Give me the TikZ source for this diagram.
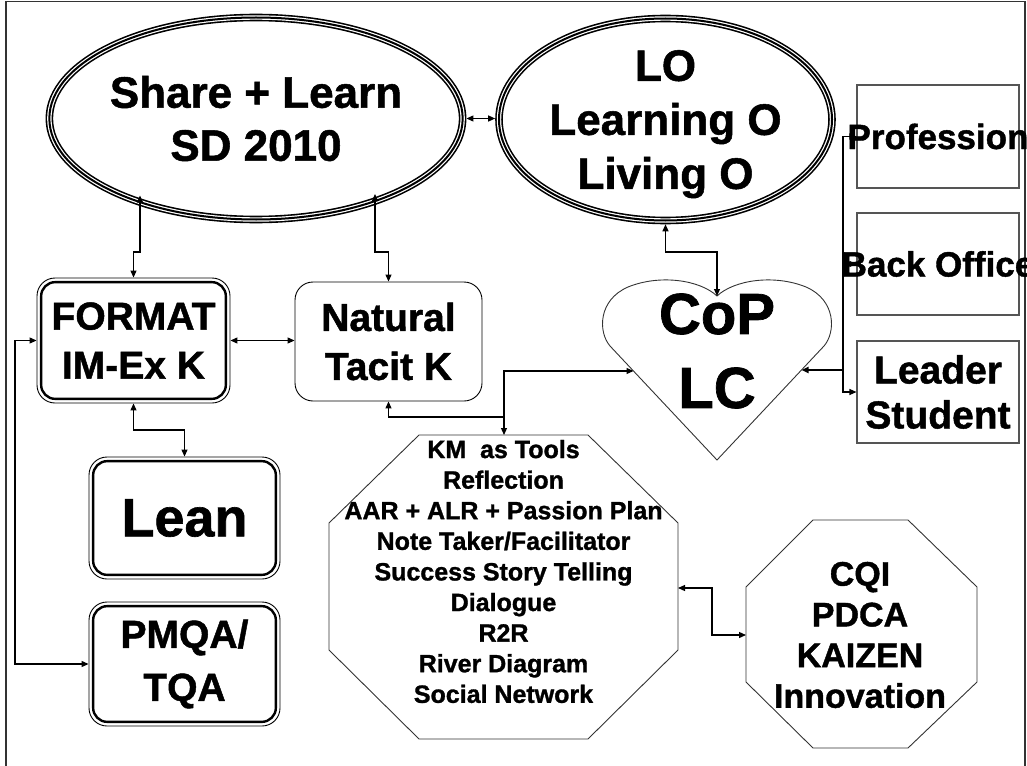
\documentclass[tikz,border=0pt]{standalone}
\usepackage{fontspec}
\setmainfont{Liberation Sans}[BoldFeatures={FakeBold=1.2}]
\usetikzlibrary{arrows.meta,calc,shapes.geometric}
\newcommand{\myfs}[2]{\fontsize{#1pt}{#2pt}\selectfont\bfseries}
\definecolor{edge}{HTML}{333333}
\definecolor{boxgray}{HTML}{555555}
\begin{document}
\begin{tikzpicture}[x=1pt,y=-1pt,
  >={Triangle[length=7pt,width=6pt]},
  conn/.style={line width=1.2pt, black},
  tri/.style={ellipse, draw, line width=7.6pt, minimum width=333pt, minimum height=202pt,
    inner sep=0pt, align=center,
    postaction={draw=white, line width=4.4pt},
    postaction={draw=black, line width=2pt}},
  rbox/.style={draw, rounded corners=18pt, line width=0.9pt, align=center, inner sep=0pt},
  sbox/.style={draw=boxgray, line width=1.1pt, minimum width=162pt, inner sep=0pt},
  octo/.style={draw=edge, line width=0.9pt},
  txt/.style={align=center, inner sep=0pt}
]
\useasboundingbox (0,0) rectangle (1027,765);
\draw[edge, line width=1.6pt] (6,1.5) rectangle (1025,768);

% ellipses
\node[tri, font=\myfs{44}{53}] (S) at (256,118.5) {Share + Learn\\SD 2010};
\node[tri, font=\myfs{44}{54}, text depth=0pt] (O) at (665.5,119.5) {LO\\Learning O\\Living O};

% left boxes
\node[rbox, minimum width=193pt, minimum height=125pt, font=\myfs{39}{49}] (F) at (133.5,340.5) {FORMAT\\IM-Ex K};
\node[rbox, minimum width=187pt, minimum height=119pt, font=\myfs{39}{49}] (N) at (388.5,341.5) {Natural\\Tacit K};
\node[rbox, minimum width=191pt, minimum height=122pt, font=\myfs{54}{60}] (L) at (184.5,518) {\raisebox{-3pt}{Lean}};
\node[rbox, minimum width=191pt, minimum height=124pt, font=\myfs{39}{53}] (PM) at (184.5,664) {PMQA/\\TQA};
\foreach \n in {F,L,PM}
  \draw[line width=2.4pt, rounded corners=14pt] ($(\n.north west)+(4.6,4.6)$) rectangle ($(\n.south east)+(-4.6,-4.6)$);

% right boxes
\node[sbox, minimum height=103pt] (P) at (938,136.5) {};
\node[sbox, minimum height=102pt] (B) at (938,264) {};
\node[sbox, minimum height=102pt] (LS) at (938,392) {};

% heart
\draw[edge, line width=0.9pt] (717,460) -- (610,346)
  .. controls (598,332) and (598,300) .. (628,287)
  .. controls (660,274) and (700,280) .. (717,296)
  .. controls (734,280) and (774,274) .. (806,287)
  .. controls (836,300) and (836,332) .. (824,346) -- cycle;
\coordinate (Htop) at (717,296);
\coordinate (Hleft) at (633.5,371);
\coordinate (Hright) at (801.5,370);
\node[txt, font=\myfs{58}{74}] (Ht) at (717,351) {CoP\\LC};

% octagons
\draw[octo] (419,435) -- (588,435) -- (678,523) -- (678,650) -- (588,739) -- (419,739) -- (329,650) -- (329,523) -- cycle;
\coordinate (Ktop) at (504,435);
\coordinate (Kright) at (678,588);
\node[txt, font=\myfs{25}{30.6}] (Kt) at (503.5,571.5) {KM\ \ as Tools\\Reflection\\AAR + ALR + Passion Plan\\Note Taker/Facilitator\\Success Story Telling\\Dialogue\\R2R\\River Diagram\\Social Network};

\draw[octo] (813,520) -- (908,520) -- (977,587) -- (977,682) -- (908,748) -- (813,748) -- (746,682) -- (746,587) -- cycle;
\coordinate (Cleft) at (746,635);
\node[txt, font=\myfs{34}{40.7}] (Ct) at (860,635) {CQI\\PDCA\\KAIZEN\\Innovation};

% connectors
\coordinate (y252) at (0,252);
\coordinate (y430) at (0,430);
\coordinate (lbus) at (15,0);
\coordinate (j1) at (504,417);
\coordinate (bus) at (843,370);
\coordinate (Sl) at ($(S.center)+(-116,77)$);
\coordinate (Sr) at ($(S.center)+(119,75.5)$);
\draw[conn,<->] (S.east) -- (S.east -| O.west);
\draw[conn,<->] (Sl) -- (Sl |- y252) -| (F.north);
\draw[conn,<->] (Sr) -- (Sr |- y252) -| (N.north);
\draw[conn,<->] (O.south) -- (O.south |- y252) -| (Htop);
\draw[conn,<->] (F.east) -- (F.east -| N.west);
\draw[conn,<->] (F.south) -- (F.south |- y430) -| (L.north);
\draw[conn,<->] (F.west) -- (F.west -| lbus) |- (PM.west);
\draw[conn,<->] (N.south) |- (j1) -- (Ktop);
\draw[conn,->] (j1) |- (Hleft);
\draw[conn,<->] (Kright) -- ++(34,0) |- (Cleft);
\draw[line width=2pt,->] (bus) -- (Hright);
\draw[conn,->] (bus) |- (P.west);
\draw[conn,->] (bus) |- (B.west);
\draw[conn,->] (bus) |- (LS.west);

% right box texts
\node[txt, font=\myfs{35}{42}] (Pt) at (P) {Profession};
\node[txt, font=\myfs{35}{42}] (Bt) at (B) {Back Office};
\node[txt, font=\myfs{39}{45}] (LSt) at (LS) {Leader\\Student};
\end{tikzpicture}
\end{document}
